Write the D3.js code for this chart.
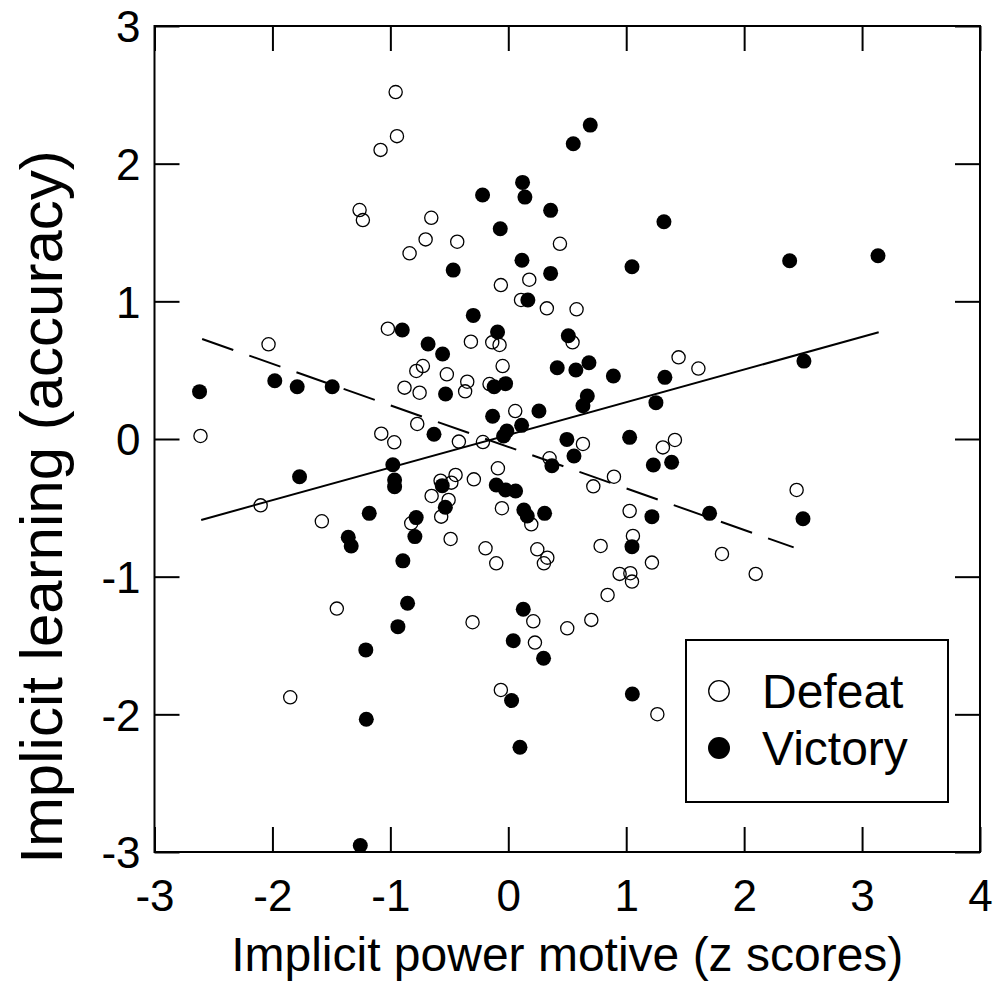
<!DOCTYPE html>
<html>
<head>
<meta charset="utf-8">
<script src="https://cdn.jsdelivr.net/npm/d3@7"></script>
<style>
  html, body { margin: 0; padding: 0; background: #fff; }
  svg { display: block; }
  text { font-family: "Liberation Sans", Arial, sans-serif; fill: #000; }
</style>
</head>
<body>
<svg id="chart" width="998" height="987"></svg>
<script>
// ---- data ----
const xTicks = [-3, -2, -1, 0, 1, 2, 3, 4];
const yTicks = [-3, -2, -1, 0, 1, 2, 3];

const defeatX = [-0.955,-0.944,-1.083,-1.261,-1.233,-0.653,-0.701,-0.837,-0.433,0.438,-0.063,0.178,0.108,-1.021,-2.033,-0.724,-0.78,-0.880,-0.752,-0.772,-2.61,-1.077,-0.967,-2.10,-1.581,-0.823,-0.65,0.327,0.579,-0.136,-0.074,-0.317,0.545,1.444,1.612,-0.521,-0.348,-0.366,-0.048,-0.159,0.059,-0.419,-0.215,0.633,1.413,1.311,0.35,-0.088,0.896,0.721,-0.292,-0.447,-0.483,-0.574,-0.506,-0.569,-0.054,0.195,1.029,-0.489,-0.193,-0.102,0.246,0.331,0.302,0.783,1.057,1.218,0.944,1.035,1.049,2.445,1.812,2.098,-1.454,-1.849,0.842,0.212,-0.303,0.500,0.704,0.226,-0.063,1.264];
const defeatY = [2.52,2.20,2.10,1.663,1.59,1.607,1.45,1.349,1.433,1.418,1.118,1.157,1.01,0.801,0.688,0.53,0.494,0.373,0.336,0.109,0.022,0.039,-0.024,-0.482,-0.598,-0.612,-0.414,0.949,0.942,0.702,0.683,0.707,0.702,0.593,0.512,0.470,0.416,0.346,0.530,0.399,0.203,-0.019,-0.022,-0.036,-0.007,-0.061,-0.14,-0.213,-0.274,-0.344,-0.293,-0.261,-0.317,-0.303,-0.443,-0.564,-0.503,-0.620,-0.523,-0.726,-0.794,-0.903,-0.801,-0.862,-0.903,-0.777,-0.704,-0.898,-0.98,-0.975,-1.036,-0.370,-0.835,-0.980,-1.232,-1.876,-1.133,-1.324,-1.331,-1.375,-1.314,-1.479,-1.823,-1.999];

const victoryX = [0.695,0.551,0.121,0.141,-0.218,0.359,1.320,-0.068,0.116,-0.467,1.049,0.359,0.166,2.386,3.135,-0.899,-0.68,-1.98,-1.79,-1.493,-2.618,-0.63,-0.979,-1.77,-0.964,-0.964,-1.179,-0.781,-0.792,-1.357,-1.332,-0.894,-0.297,-0.091,-0.557,0.509,-0.532,0.415,0.573,0.684,0.891,1.328,-0.12,-0.023,0.670,0.633,1.252,0.26,-0.133,0.113,-0.012,-0.040,0.497,1.029,0.557,0.37,1.230,1.385,-0.102,-0.023,0.062,-0.56,-0.534,0.132,0.161,0.308,1.218,1.049,2.507,1.707,2.499,-0.854,-0.936,-1.208,-1.204,-1.255,0.127,0.042,0.299,0.028,1.052,0.099];
const victoryY = [2.28,2.145,1.864,1.757,1.772,1.661,1.578,1.527,1.298,1.227,1.251,1.203,1.01,1.295,1.331,0.792,0.69,0.423,0.38,0.38,0.344,0.035,-0.187,-0.274,-0.298,-0.346,-0.54,-0.571,-0.709,-0.714,-0.777,-0.885,0.898,0.777,0.617,0.750,0.327,0.518,0.501,0.554,0.458,0.448,0.38,0.402,0.312,0.242,0.264,0.203,0.165,0.099,0.058,0.022,-0.003,0.012,-0.123,-0.194,-0.189,-0.169,-0.334,-0.370,-0.378,-0.339,-0.496,-0.516,-0.559,-0.54,-0.564,-0.782,0.566,-0.540,-0.579,-1.193,-1.363,-1.532,-2.036,-2.953,-1.237,-1.465,-1.593,-1.900,-1.852,-2.239];

// fit lines (end points)
const victoryLineX = [-2.604, 3.141];
const victoryLineY = [-0.588, 0.775];
const defeatLineX = [-2.596, 2.420];
const defeatLineY = [0.726, -0.787];

const legendLabels = ["Defeat", "Victory"];
const xTitle = "Implicit power motive (z scores)";
const yTitle = "Implicit learning (accuracy)";

// ---- layout ----
const svg = d3.select("#chart");
const L = 154.5, R = 980, T = 26, B = 852;
const x = d3.scaleLinear().domain([-3, 4]).range([L, R]);
const y = d3.scaleLinear().domain([-3, 3]).range([B, T]);
const FONT = '"Liberation Sans", Arial, sans-serif';
const fmt = d => String(d);   // plain hyphen-minus as in the reference

// axes (inward ticks on all four sides)
const tickLen = 25;
const axB = svg.append("g").attr("transform", `translate(0,${B})`)
  .call(d3.axisBottom(x).tickValues(xTicks).tickSizeInner(-tickLen).tickSizeOuter(0).tickPadding(28).tickFormat(fmt));
const axT = svg.append("g").attr("transform", `translate(0,${T})`)
  .call(d3.axisTop(x).tickValues(xTicks).tickSizeInner(-tickLen).tickSizeOuter(0).tickFormat(""));
const axLft = svg.append("g").attr("transform", `translate(${L},0)`)
  .call(d3.axisLeft(y).tickValues(yTicks).tickSizeInner(-tickLen).tickSizeOuter(0).tickPadding(14).tickFormat(fmt));
const axRt = svg.append("g").attr("transform", `translate(${R},0)`)
  .call(d3.axisRight(y).tickValues(yTicks).tickSizeInner(-tickLen).tickSizeOuter(0).tickFormat(""));

[axB, axT, axLft, axRt].forEach(a => {
  a.select(".domain").remove();
  a.selectAll(".tick line").attr("stroke", "#000").attr("stroke-width", 2);
  a.selectAll(".tick text").attr("font-family", FONT).attr("font-size", 44).attr("fill", "#000");
});
axLft.selectAll(".tick text").attr("dy", "0.36em");

// frame
svg.append("rect").attr("x", L).attr("y", T).attr("width", R - L).attr("height", B - T)
  .attr("fill", "none").attr("stroke", "#000").attr("stroke-width", 2);

// points
const defeat = defeatX.map((d, i) => ({ x: d, y: defeatY[i] }));
const victory = victoryX.map((d, i) => ({ x: d, y: victoryY[i] }));

svg.append("g").selectAll("circle").data(defeat).join("circle")
  .attr("cx", d => x(d.x)).attr("cy", d => y(d.y)).attr("r", 6.6)
  .attr("fill", "none").attr("stroke", "#000").attr("stroke-width", 1.3);

svg.append("g").selectAll("circle").data(victory).join("circle")
  .attr("cx", d => x(d.x)).attr("cy", d => y(d.y)).attr("r", 7.5)
  .attr("fill", "#000");

// fit lines
const line = d3.line().x(d => x(d[0])).y(d => y(d[1]));
svg.append("path").datum(victoryLineX.map((v, i) => [v, victoryLineY[i]]))
  .attr("d", line).attr("fill", "none").attr("stroke", "#000").attr("stroke-width", 2);
svg.append("path").datum(defeatLineX.map((v, i) => [v, defeatLineY[i]]))
  .attr("d", line).attr("fill", "none").attr("stroke", "#000").attr("stroke-width", 2)
  .attr("stroke-dasharray", "33,17");

// legend
const lg = svg.append("g");
lg.append("rect").attr("x", 686).attr("y", 640).attr("width", 262).attr("height", 162)
  .attr("fill", "#fff").attr("stroke", "#000").attr("stroke-width", 2);
legendLabels.forEach((lab, i) => {
  const cy = 691 + i * 57;
  lg.append("circle").attr("cx", 719).attr("cy", cy).attr("r", i === 0 ? 10.3 : 11)
    .attr("fill", i === 0 ? "none" : "#000").attr("stroke", "#000").attr("stroke-width", i === 0 ? 1.3 : 0);
  lg.append("text").attr("x", 762).attr("y", cy + 17).attr("font-family", FONT)
    .attr("font-size", 48).text(lab);
});

// axis titles
svg.append("text").attr("x", (L + R) / 2).attr("y", 971).attr("text-anchor", "middle")
  .attr("font-family", FONT).attr("font-size", 48).text(xTitle);
svg.append("text").attr("transform", `translate(62,507) rotate(-90)`)
  .attr("text-anchor", "middle").attr("font-family", FONT).attr("font-size", 60).text(yTitle);
</script>
</body>
</html>
